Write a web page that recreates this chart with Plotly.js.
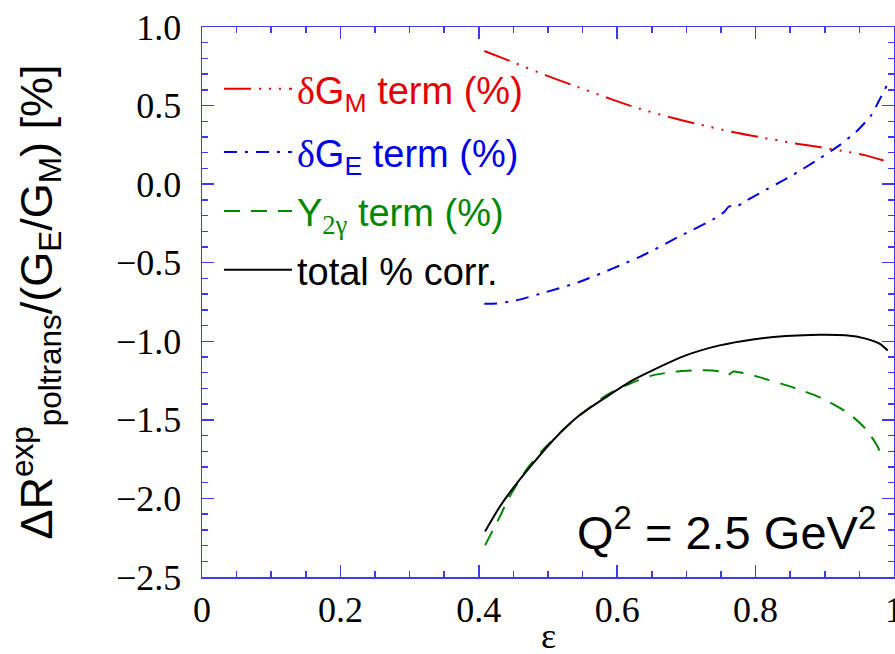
<!DOCTYPE html>
<html>
<head>
<meta charset="utf-8">
<script src="https://cdn.plot.ly/plotly-3.0.1.min.js"></script>
<style>
  html, body { margin: 0; padding: 0; background: #fff; }
  #plot { width: 895px; height: 654px; }
</style>
</head>
<body>
<div id="plot"></div>
<script>
// epsilon grid and percent corrections at Q^2 = 2.5 GeV^2
const epsGM = [0.408, 0.449, 0.497, 0.536, 0.593, 0.627, 0.675, 0.714, 0.767, 0.805, 0.853, 0.892, 0.935, 0.959, 0.985];
const termGM = [0.847, 0.777, 0.692, 0.629, 0.538, 0.487, 0.427, 0.385, 0.332, 0.300, 0.262, 0.236, 0.204, 0.183, 0.150];

const epsGE = [0.408, 0.425, 0.454, 0.497, 0.545, 0.593, 0.642, 0.690, 0.738, 0.755, 0.762, 0.770, 0.780, 0.805, 0.853, 0.892, 0.921, 0.945, 0.967, 0.981, 0.991];
const termGE = [-0.761, -0.760, -0.740, -0.687, -0.623, -0.538, -0.443, -0.332, -0.226, -0.175, -0.140, -0.152, -0.122, -0.060, 0.056, 0.162, 0.247, 0.332, 0.438, 0.554, 0.640];

const epsY2g = [0.409, 0.430, 0.444, 0.468, 0.492, 0.526, 0.555, 0.584, 0.618, 0.651, 0.690, 0.728, 0.752, 0.760, 0.768, 0.805, 0.853, 0.897, 0.935, 0.959, 0.974, 0.985];
const termY2g = [-2.299, -2.119, -1.992, -1.822, -1.694, -1.546, -1.440, -1.344, -1.270, -1.217, -1.190, -1.185, -1.195, -1.215, -1.192, -1.228, -1.292, -1.365, -1.461, -1.557, -1.652, -1.750];

const epsTot = [0.409, 0.430, 0.449, 0.478, 0.507, 0.545, 0.584, 0.622, 0.651, 0.699, 0.748, 0.796, 0.844, 0.892, 0.930, 0.959, 0.979, 0.991];
const totalCorr = [-2.210, -2.055, -1.938, -1.779, -1.631, -1.472, -1.355, -1.249, -1.185, -1.090, -1.026, -0.988, -0.967, -0.958, -0.962, -0.983, -1.015, -1.058];

const xTickVals = [0, 0.2, 0.4, 0.6, 0.8, 1];
const xTickText = ['0', '0.2', '0.4', '0.6', '0.8', '1'];
const yTickVals = [1.0, 0.5, 0.0, -0.5, -1.0, -1.5, -2.0, -2.5];
const yTickText = ['1.0', '0.5', '0.0', '\u22120.5', '\u22121.0', '\u22121.5', '\u22122.0', '\u22122.5'];

const seriesNames = [
  '<span style="font-family:Liberation Serif">δ</span>G<sub>M</sub> term (%)',
  '<span style="font-family:Liberation Serif">δ</span>G<sub>E</sub> term (%)',
  'Y<sub><span style="font-family:Liberation Serif">2γ</span></sub> term (%)',
  'total % corr.'
];

const RED = 'rgb(228,0,0)', BLUE = 'rgb(0,0,225)', GREEN = 'rgb(0,135,0)', BLACK = '#000';
const AXIS = 'rgb(60,60,235)';

const traces = [
  { x: epsGM, y: termGM, name: seriesNames[0], legend: 'legend',
    line: { color: RED, width: 2, dash: '27px,8px,2px,8px,2px,8px,2px,8px', shape: 'spline', smoothing: 0.6 } },
  { x: epsGE, y: termGE, name: seriesNames[1], legend: 'legend2',
    line: { color: BLUE, width: 2, dash: '13px,8px,3px,8px', shape: 'spline', smoothing: 0.6 } },
  { x: epsY2g, y: termY2g, name: seriesNames[2], legend: 'legend3',
    line: { color: GREEN, width: 2, dash: '16px,11px', shape: 'spline', smoothing: 0.6 } },
  { x: epsTot, y: totalCorr, name: seriesNames[3], legend: 'legend4',
    line: { color: BLACK, width: 2, shape: 'spline', smoothing: 0.6 } }
].map(t => Object.assign({ type: 'scatter', mode: 'lines', hoverinfo: 'skip' }, t));

function legendAt(y, color) {
  return {
    x: 0.0245, xanchor: 'left', y: y, yanchor: 'middle',
    bgcolor: 'rgba(0,0,0,0)', borderwidth: 0, itemwidth: 68,
    font: { family: 'Liberation Sans, Arial, sans-serif', size: 38, color: color }
  };
}

const tickFont = { family: 'Liberation Serif, Times New Roman, serif', size: 36, color: '#000' };

const layout = {
  width: 895, height: 654,
  margin: { l: 202, r: 1, t: 27, b: 77, pad: 0 },
  paper_bgcolor: '#fff', plot_bgcolor: '#fff',
  showlegend: true,
  legend: legendAt(0.887, RED),
  legend2: legendAt(0.772, BLUE),
  legend3: legendAt(0.665, GREEN),
  legend4: legendAt(0.5582, BLACK),
  xaxis: {
    range: [0, 1], tickmode: 'array', tickvals: xTickVals, ticktext: xTickText,
    ticks: 'inside', ticklen: 12, tickwidth: 1.5, tickcolor: AXIS,
    minor: { tickmode: 'linear', tick0: 0, dtick: 0.05, ticks: 'inside', ticklen: 6, tickwidth: 1.5, tickcolor: AXIS },
    showline: true, linecolor: AXIS, linewidth: 1.5, mirror: 'allticks',
    showgrid: false, zeroline: false, tickfont: tickFont,
    ticklabelstandoff: 0, ticklabeloverflow: 'allow'
  },
  yaxis: {
    range: [-2.5, 1.0], tickmode: 'array', tickvals: yTickVals, ticktext: yTickText,
    ticks: 'inside', ticklen: 12, tickwidth: 1.5, tickcolor: AXIS,
    minor: { tickmode: 'linear', tick0: 0, dtick: 0.1, ticks: 'inside', ticklen: 6, tickwidth: 1.5, tickcolor: AXIS },
    showline: true, linecolor: AXIS, linewidth: 1.5, mirror: 'allticks',
    showgrid: false, zeroline: false, tickfont: tickFont, ticklabelstandoff: 12,
    ticklabeloverflow: 'allow',
    title: {
      text: 'ΔR<sup>exp</sup><sub>poltrans</sub>/(G<sub>E</sub>/G<sub>M</sub>) [%]',
      font: { family: 'Liberation Sans, Arial, sans-serif', size: 45, color: '#000' },
      standoff: 49
    }
  },
  annotations: [
    {
      xref: 'paper', yref: 'paper', x: 0.5, y: -0.108, xanchor: 'center', yanchor: 'middle',
      text: 'ε', showarrow: false,
      font: { family: 'Liberation Serif, Times New Roman, serif', size: 36, color: '#000' }
    },
    {
      xref: 'paper', yref: 'paper', x: 0.977, y: 0.03, xanchor: 'right', yanchor: 'bottom',
      text: 'Q<sup>2</sup> = 2.5 GeV<sup>2</sup>', showarrow: false,
      font: { family: 'Liberation Sans, Arial, sans-serif', size: 47, color: '#000' }
    }
  ]
};

Plotly.newPlot('plot', traces, layout, { displayModeBar: false, staticPlot: true });
</script>
</body>
</html>
